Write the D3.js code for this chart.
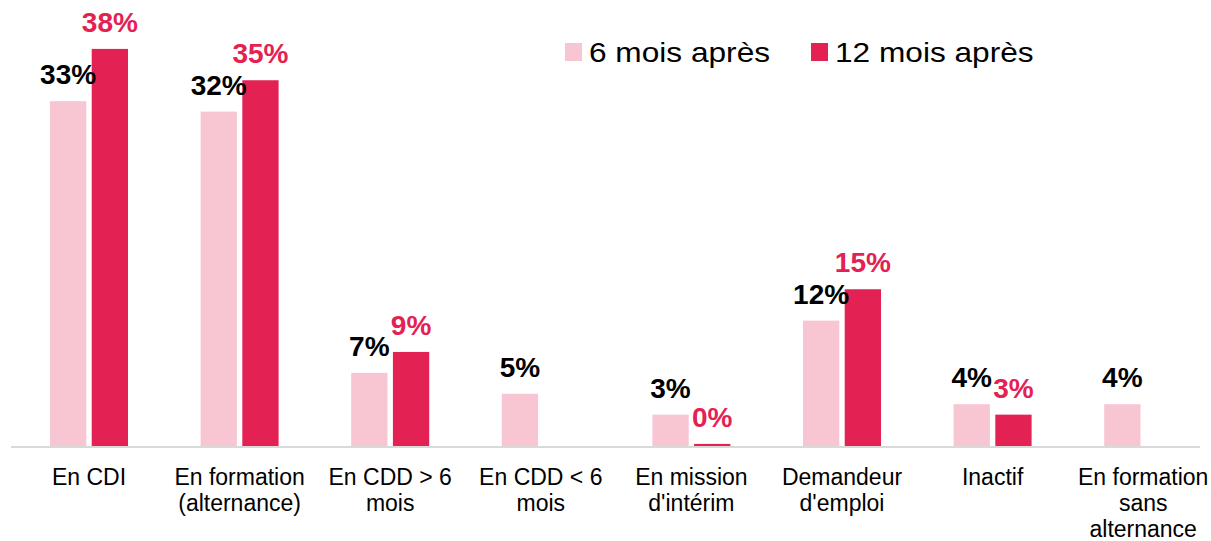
<!DOCTYPE html>
<html>
<head>
<meta charset="utf-8">
<script src="https://cdn.jsdelivr.net/npm/d3@7"></script>
<style>
  html, body { margin: 0; padding: 0; background: #fff; }
  svg { display: block; font-family: "Liberation Sans", Arial, sans-serif; }
</style>
</head>
<body>
<svg id="chart" width="1211" height="541"></svg>
<script>
// Situation des jeunes 6 et 12 mois après la sortie
const categories = [
  ["En CDI"],
  ["En formation", "(alternance)"],
  ["En CDD > 6", "mois"],
  ["En CDD < 6", "mois"],
  ["En mission", "d'intérim"],
  ["Demandeur", "d'emploi"],
  ["Inactif"],
  ["En formation", "sans", "alternance"]
];
const seriesNames = ["6 mois après", "12 mois après"];
const sixMonths = [33, 32, 7, 5, 3, 12, 4, 4];
const twelveMonths = [38, 35, 9, null, 0.2, 15, 3, null];

const colors = ["#F7C6D2", "#E42153"];
const labelColors = ["#000000", "#E42153"];

const svg = d3.select("#chart");
const baseY = 446;

const x = d3.scaleBand()
  .domain(d3.range(categories.length))
  .range([13.7, 1218.5]);

const y = d3.scaleLinear()
  .domain([0, 40])
  .range([baseY, baseY - 418]);

const inner = d3.scaleBand()
  .domain([0, 1])
  .range([-39, 39])
  .paddingInner(0.13);

const rows = [];
[sixMonths, twelveMonths].forEach((vals, s) => {
  vals.forEach((v, i) => {
    if (v !== null) rows.push({ s, i, v });
  });
});

const cx = i => x(i) + x.bandwidth() / 2;

// Bars
svg.append("g").selectAll("rect")
  .data(rows)
  .join("rect")
  .attr("x", d => cx(d.i) + inner(d.s))
  .attr("width", inner.bandwidth())
  .attr("y", d => y(d.v))
  .attr("height", d => baseY - y(d.v))
  .attr("fill", d => colors[d.s]);

// Value labels
svg.append("g").selectAll("text")
  .data(rows)
  .join("text")
  .attr("x", d => cx(d.i) + inner(d.s) + inner.bandwidth() / 2)
  .attr("y", d => y(d.v) - 17)
  .attr("text-anchor", "middle")
  .attr("font-size", 28)
  .attr("font-weight", "bold")
  .attr("fill", d => labelColors[d.s])
  .text(d => Math.round(d.v) + "%");

// Category axis line
svg.append("line")
  .attr("x1", 11).attr("x2", 1200)
  .attr("y1", baseY + 1).attr("y2", baseY + 1)
  .attr("stroke", "#D9D9D9")
  .attr("stroke-width", 2);

// Category labels
const catG = svg.append("g").selectAll("text")
  .data(categories)
  .join("text")
  .attr("x", (d, i) => cx(i))
  .attr("y", 485)
  .attr("text-anchor", "middle")
  .attr("font-size", 23)
  .attr("fill", "#000");
catG.selectAll("tspan")
  .data(d => d)
  .join("tspan")
  .attr("x", function () { return d3.select(this.parentNode).attr("x"); })
  .attr("dy", (d, k) => k === 0 ? 0 : 26)
  .text(d => d);

// Legend
const legendX = [565, 811];
const legend = svg.append("g").selectAll("g")
  .data(seriesNames)
  .join("g")
  .attr("transform", (d, i) => `translate(${legendX[i]},43)`);
legend.append("rect")
  .attr("width", 17).attr("height", 18)
  .attr("fill", (d, i) => colors[i]);
legend.append("text")
  .attr("transform", "translate(24,18.7) scale(1.13,1)")
  .attr("font-size", 28)
  .attr("fill", "#000")
  .text(d => d);
</script>
</body>
</html>
